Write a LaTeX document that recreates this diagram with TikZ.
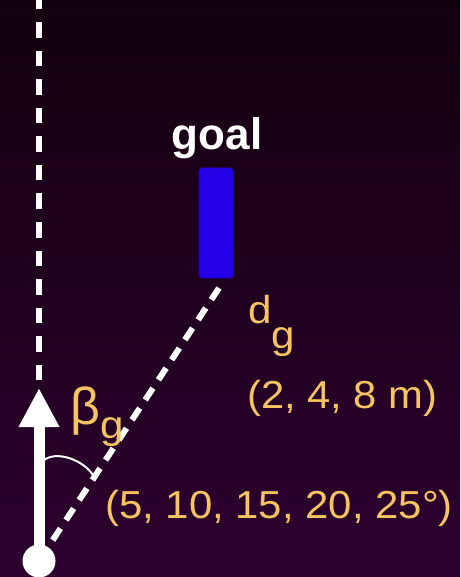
\documentclass[tikz,border=0pt]{standalone}
\usepackage{fontspec}
\setmainfont{Liberation Sans}
\usetikzlibrary{arrows.meta}
\definecolor{bgtop}{RGB}{19,0,15}
\definecolor{bgbot}{RGB}{46,0,48}
\definecolor{labelyellow}{RGB}{246,196,97}
\definecolor{goalblue}{RGB}{36,0,232}
\newcommand{\wide}[1]{\scalebox{1.08}[1]{#1}}
\tikzset{
  ytext/.style={text=labelyellow, inner sep=0pt, anchor=base west, font=\fontsize{39}{44}\selectfont},
  whitedash/.style={white, line width=6pt, dash pattern=on 15.5pt off 13pt},
  goalbox/.style={fill=goalblue, draw=goalblue!80!black, line width=0.6pt, rounded corners=3pt, minimum width=34pt, minimum height=110pt, inner sep=0pt},
}
\begin{document}
\begin{tikzpicture}[x=1pt,y=-1pt]
\useasboundingbox (0,0) rectangle (460,577);
\clip (0,0) rectangle (460,577);
\shade[top color=bgtop, bottom color=bgbot] (0,0) rectangle (460,577);
% vertical reference line
\coordinate (top) at (39,0);
\coordinate (vbase) at (39,380);
\draw[whitedash] (vbase) -- (top);
% goal
\node[goalbox] (goal) at (216,223) {};
\node[text=white, inner sep=0pt, anchor=base, font=\fontsize{44}{48}\selectfont\bfseries] (goallabel) at (217,150) {goal};
% diagonal line to goal
\coordinate (dend) at (219,288);
\coordinate (robotc) at (39,561);
\draw[white, line width=6pt, dash pattern=on 14pt off 10pt] (dend) -- (robotc);
% robot and heading arrow
\node[circle, fill=white, minimum size=33pt, inner sep=0pt] (robot) at (39,561) {};
\coordinate (tip) at (39,388);
\draw[white, line width=11pt, -{Triangle[width=38pt,length=39pt]}] (robot.center) -- (tip);
% angle arc
\coordinate (arcstart) at (43,461);
\coordinate (arcend) at (96,481);
\draw[white, line width=2pt, -{Latex[length=5pt,width=6pt]}] (arcstart) .. controls (56,449) and (86,461) .. (arcend);
% labels
\node[ytext] (beta) at (70,424) {{\fontsize{52}{56}\selectfont β}\raisebox{-14pt}{\wide{g}}};
\node[ytext] (dg) at (248,323) {\wide{d}\raisebox{-25pt}{\wide{g}}};
\node[ytext] (drange) at (247,408) {\scalebox{1.07}[1]{(2, 4, 8 m)}};
\node[ytext] (brange) at (105,518) {\scalebox{1.075}[1]{(5, 10, 15, 20, 25°)}};
\end{tikzpicture}
\end{document}
